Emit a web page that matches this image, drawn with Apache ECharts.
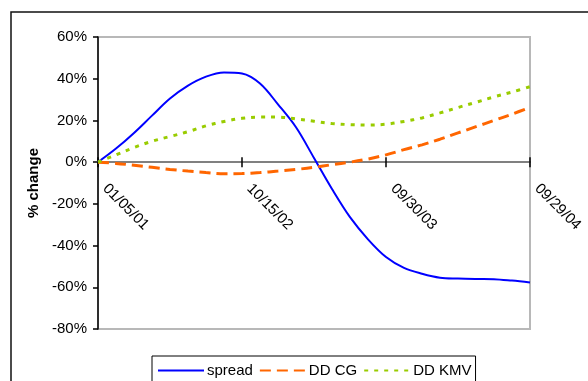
<!DOCTYPE html>
<html>
<head>
<meta charset="utf-8">
<script src="https://cdn.jsdelivr.net/npm/echarts@6/dist/echarts.min.js"></script>
<style>
  html, body { margin: 0; padding: 0; background: #fff; }
  #chart { width: 588px; height: 381px; }
</style>
</head>
<body>
<div id="chart"></div>
<script>
const tickLabels = ['01/05/01', '10/15/02', '09/30/03', '09/29/04'];
const tickStep = 8;

const spread = [0, 6.5, 14, 22.3, 30.5, 36.7, 41, 43, 42.5, 37.7, 27.7, 16.7, 2,
  -12.9, -26.4, -37, -45.5, -50.7, -53.5, -55.4, -55.8, -56, -56.1, -56.8, -57.7];
const ddCG = [0, -0.6, -1.5, -2.5, -3.5, -4.3, -5, -5.6, -5.5, -5, -4.3, -3.5, -2.5,
  -1.2, 0, 1.5, 3.5, 6, 8.3, 11, 14, 17, 20, 23, 26.3];
const ddKMV = [0, 3.5, 7, 10, 12.3, 14.6, 17.4, 19.5, 21, 21.6, 21.6, 20.7, 19.6,
  18.5, 18, 17.8, 18.2, 19.5, 21.2, 23.6, 26.2, 28.7, 31.3, 33.6, 36.2];

const yTicks = { min: -80, max: 60, interval: 20 };

var chart = echarts.init(document.getElementById('chart'));
const font = "'Liberation Sans', Arial, sans-serif";
const toPairs = arr => arr.map((v, i) => [i, v]);

// plot box
const W = 588, H = 381;
const pLeft = 98, pRight = 58, pTop = 37, pBottom = 52;
// helper grid whose bottom edge sits on the 0% line, to carry the date labels
const zeroY = pTop + (H - pTop - pBottom) * yTicks.max / (yTicks.max - yTicks.min);

const xBase = {
  type: 'value',
  min: 0,
  max: (spread.length - 1),
  interval: tickStep,
  splitLine: { show: false }
};
const tickStyle = { show: true, length: 5, lineStyle: { color: '#000', width: 1.5 } };

var option = {
  animation: false,
  textStyle: { fontFamily: font },
  grid: [
    {
      left: pLeft, right: pRight, top: pTop, bottom: pBottom,
      outerBoundsMode: 'none',
      show: true,
      borderColor: '#b8b8b8',
      borderWidth: 2
    },
    {
      left: pLeft, right: pRight, top: pTop, bottom: H - zeroY,
      outerBoundsMode: 'none'
    }
  ],
  graphic: [{
    type: 'rect',
    shape: { x: 11, y: 12, width: 640, height: 440 },
    style: { fill: 'none', stroke: '#111', lineWidth: 1.5 },
    silent: true,
    z: -1
  }],
  xAxis: [
    Object.assign({}, xBase, {
      gridIndex: 0,
      position: 'bottom',
      axisLine: { onZero: true, lineStyle: { color: '#808080', width: 2 } },
      axisTick: tickStyle,
      axisLabel: { show: false }
    }),
    Object.assign({}, xBase, {
      gridIndex: 0,
      position: 'top',
      axisLine: { onZero: true, onZeroAxisIndex: 0, lineStyle: { color: '#808080', width: 2 } },
      axisTick: tickStyle,
      axisLabel: { show: false }
    }),
    Object.assign({}, xBase, {
      gridIndex: 1,
      position: 'bottom',
      axisLine: { show: false, onZero: false },
      axisTick: { show: false },
      axisLabel: {
        rotate: -45,
        margin: 17,
        padding: [0, 0, 0, 10],
        color: '#000',
        fontSize: 15,
        fontFamily: font,
        showMinLabel: true,
        showMaxLabel: true,
        formatter: v => tickLabels[Math.round(v / tickStep)] || ''
      }
    })
  ],
  yAxis: [
    {
      gridIndex: 0,
      type: 'value',
      min: yTicks.min,
      max: yTicks.max,
      interval: yTicks.interval,
      name: '% change',
      nameLocation: 'middle',
      nameGap: 53,
      nameTextStyle: { fontSize: 15, fontWeight: 'bold', color: '#000', fontFamily: font },
      splitLine: { show: false },
      axisLine: { show: true, onZero: false, lineStyle: { color: '#000', width: 1.5 } },
      axisTick: tickStyle,
      axisLabel: { margin: 11, color: '#000', fontSize: 15, fontFamily: font, formatter: '{value}%' }
    },
    {
      gridIndex: 1,
      type: 'value',
      show: false
    }
  ],
  legend: {
    left: 152,
    top: 356,
    padding: [7, 4, 12, 5],
    itemGap: 6,
    itemWidth: 46,
    itemHeight: 14,
    borderColor: '#000',
    borderWidth: 1,
    itemStyle: { opacity: 0 },
    textStyle: { fontSize: 15, color: '#000', fontFamily: font, padding: [0, 0, 0, -2] },
    data: ['spread', 'DD CG', 'DD KMV']
  },
  series: [
    {
      name: 'spread', type: 'line', smooth: 0.35, symbol: 'none',
      lineStyle: { color: '#0000ff', width: 2 },
      itemStyle: { color: '#0000ff' },
      data: toPairs(spread)
    },
    {
      name: 'DD CG', type: 'line', smooth: 0.35, symbol: 'none',
      lineStyle: { color: '#ff6600', width: 3, type: [11, 6] },
      itemStyle: { color: '#ff6600' },
      data: toPairs(ddCG)
    },
    {
      name: 'DD KMV', type: 'line', smooth: 0.35, symbol: 'none',
      lineStyle: { color: '#99cc00', width: 3, type: [4, 6] },
      itemStyle: { color: '#99cc00' },
      data: toPairs(ddKMV)
    }
  ]
};

option && chart.setOption(option);
</script>
</body>
</html>
